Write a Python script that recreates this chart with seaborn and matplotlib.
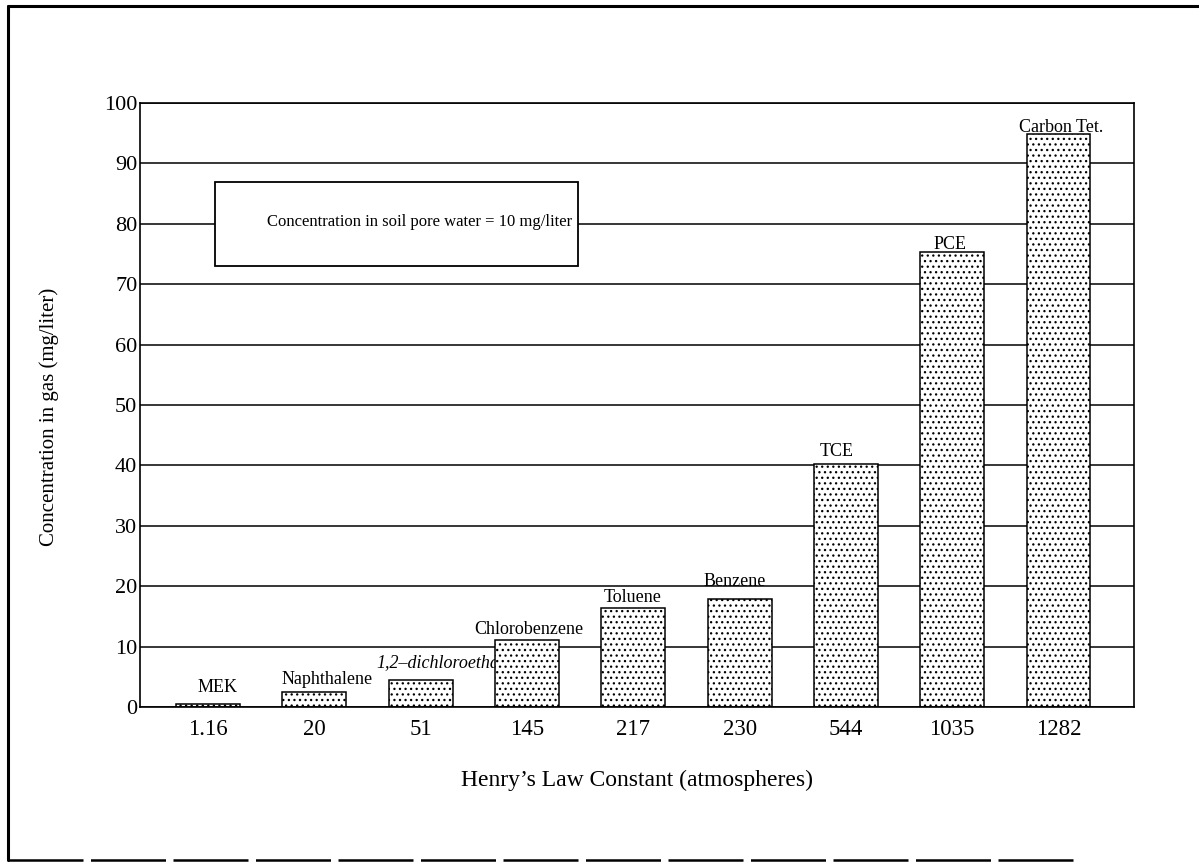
import seaborn as sns
import matplotlib.pyplot as plt
from matplotlib.patches import Rectangle
from matplotlib.lines import Line2D

# data
henry_constant = ["1.16", "20", "51", "145", "217", "230", "544", "1035", "1282"]
compounds = ["MEK", "Naphthalene", "1,2\u2013dichloroethane", "Chlorobenzene",
             "Toluene", "Benzene", "TCE", "PCE", "Carbon Tet."]
gas_conc = [0.5, 2.5, 4.4, 11.1, 16.4, 17.9, 40.3, 75.4, 94.8]
box_note = "Concentration in soil pore water = 10 mg/liter"

# label placement relative to each bar (x shift, y shift)
label_dx = [0.09, 0.12, -0.415, 0.02, -0.01, -0.05, -0.09, -0.02, 0.02]
label_dy = [2.8, 2.1, 3.0, 1.8, 1.8, 2.8, 2.0, 1.1, 1.1]
label_ha = ["center", "center", "left", "center", "center", "center", "center", "center", "center"]

sns.set_theme(style="white")
plt.rcParams["font.family"] = ["Liberation Serif", "DejaVu Serif"]
plt.rcParams["hatch.color"] = "black"
plt.rcParams["hatch.linewidth"] = 0.9

fig = plt.figure(figsize=(11.99, 8.63), dpi=100)
ax = fig.add_axes([0.1168, 0.1808, 0.8290, 0.6998])

sns.barplot(x=henry_constant, y=gas_conc, color="white", saturation=1,
            edgecolor="black", linewidth=1.1, width=0.6, hatch="...", ax=ax, zorder=2)

ax.set_xlim(-0.64, 8.71)
ax.set_ylim(0, 100)
ax.set_yticks(range(0, 101, 10))
ax.yaxis.grid(True, color="black", linewidth=1.1)
ax.xaxis.grid(False)
ax.set_axisbelow(True)
for s in ax.spines.values():
    s.set_color("black")
    s.set_linewidth(1.2)
    s.set_visible(True)

ax.tick_params(axis="y", length=0, pad=2, labelsize=16, colors="black")
ax.tick_params(axis="x", length=0, pad=9, labelsize=16.5, colors="black")

ax.set_xlabel("Henry\u2019s Law Constant (atmospheres)", fontsize=17, color="black")
ax.xaxis.set_label_coords(0.5, -0.104)
ax.set_ylabel("Concentration in gas (mg/liter)", fontsize=15, color="black")
ax.yaxis.set_label_coords(-0.082, 0.48)

for i, name in enumerate(compounds):
    style = "italic" if i == 2 else "normal"
    ax.text(i + label_dx[i], gas_conc[i] + label_dy[i], name, ha=label_ha[i], va="center",
            fontsize=13, fontstyle=style, color="black", zorder=1.5)

# note box
ax.add_patch(Rectangle((0.0755, 0.730), 0.3655, 0.139, transform=ax.transAxes,
                       facecolor="white", edgecolor="black", linewidth=1.3, zorder=3))
ax.text(0.435, 0.803, box_note, transform=ax.transAxes, ha="right", va="center",
        fontsize=12, color="black", zorder=4)

# outer page frame
fig.add_artist(Line2D([0.007, 0.007], [0.003, 0.993], color="black", linewidth=2.2))
fig.add_artist(Line2D([0.007, 1.0], [0.993, 0.993], color="black", linewidth=2.2))
fig.add_artist(Line2D([0.007, 0.9], [0.003, 0.003], color="black", linewidth=1.8,
                      linestyle=(0, (30, 3))))

fig.savefig("out.png", dpi=100)
